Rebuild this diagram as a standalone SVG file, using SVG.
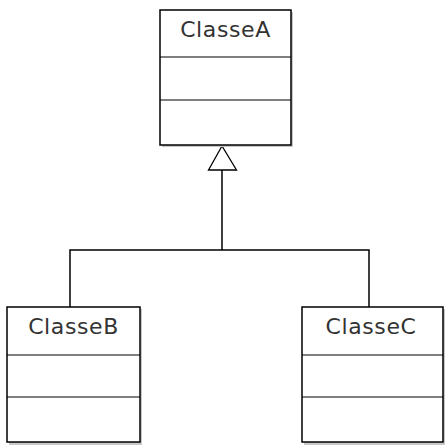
<svg xmlns="http://www.w3.org/2000/svg" width="445" height="445" viewBox="0 0 445 445">
<style>
.box{fill:#fff;stroke:#000;stroke-width:1.5}
.sh{fill:#c8c8c8}
.div{stroke:#000;stroke-width:1.2}
.lbl{font-family:"DejaVu Sans",sans-serif;font-size:22px;letter-spacing:0.6px;fill:#333;text-anchor:middle}
.edge{fill:none;stroke:#000;stroke-width:1.5}
</style>
<rect width="445" height="445" fill="#fff"/>
<g id="connectors">
<polyline class="edge" points="70,307 70,250 369,250 369,307"/>
<line class="edge" x1="222" y1="250" x2="222" y2="170"/>
<polygon points="222,146 208.5,170 236.5,170" fill="#fff" stroke="#000" stroke-width="1.3"/>
</g>
<g id="ClasseA">
<rect class="sh" x="162" y="12" width="131" height="135"/>
<rect class="box" x="160" y="10" width="131" height="135"/>
<line class="div" x1="160" y1="57" x2="291" y2="57"/>
<line class="div" x1="160" y1="100" x2="291" y2="100"/>
<text class="lbl" x="225.5" y="37">ClasseA</text>
</g>
<g id="ClasseB">
<rect class="sh" x="9" y="309" width="133" height="136"/>
<rect class="box" x="7" y="307" width="133" height="135"/>
<line class="div" x1="7" y1="355" x2="140" y2="355"/>
<line class="div" x1="7" y1="397" x2="140" y2="397"/>
<text class="lbl" x="73.5" y="334">ClasseB</text>
</g>
<g id="ClasseC">
<rect class="sh" x="304" y="309" width="141" height="136"/>
<rect class="box" x="302" y="307" width="141" height="135"/>
<line class="div" x1="302" y1="355" x2="443" y2="355"/>
<line class="div" x1="302" y1="397" x2="443" y2="397"/>
<text class="lbl" x="371" y="334">ClasseC</text>
</g>
</svg>
